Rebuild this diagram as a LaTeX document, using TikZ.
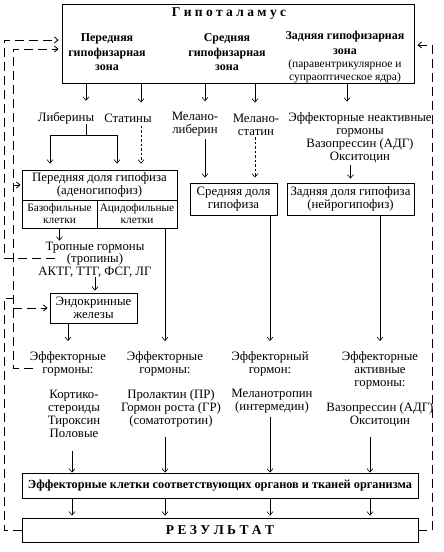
\documentclass[tikz,border=0pt]{standalone}
\usepackage{fontspec}
\setmainfont{Liberation Serif}
\usetikzlibrary{arrows.meta}

\begin{document}
\begin{tikzpicture}[x=1pt,y=-1pt]
	\tikzstyle{boite}=[draw,line width=0.9pt,inner sep=0pt]
	\tikzstyle{texte}=[align=center,inner sep=0pt,font=\fontsize{12.8}{13}\selectfont]
	\tikzstyle{petit}=[align=center,inner sep=0pt,font=\fontsize{11.3}{12}\selectfont]
	\tikzstyle{gras}=[align=center,inner sep=0pt,font=\fontsize{12}{14.5}\selectfont\bfseries]
	\tikzstyle{fleche}=[line width=0.6pt,-{Straight Barb[length=3.5pt,width=6pt]}]
	\tikzstyle{pointille}=[fleche,dash pattern=on 2.5pt off 2pt]
	\tikzstyle{retour}=[line width=0.8pt,dash pattern=on 9pt off 5pt]
	\useasboundingbox (0,0) rectangle (444,552);
	% hypothalamus
	\node[boite,minimum width=352pt,minimum height=79pt] (hyp) at (238,43.5) {};
	\node[gras,font=\fontsize{13.5}{14}\selectfont\bfseries] (titre) at (229,14) {Г и п о т а л а м у с};
	\node[gras] (zant) at (107,52.5) {Передняя\\гипофизарная\\зона};
	\node[gras] (zmoy) at (227,52.5) {Средняя\\гипофизарная\\зона};
	\node[gras] (zpost) at (345,43) {Задняя гипофизарная\\зона};
	\node[texte,font=\fontsize{11.5}{13}\selectfont] (noyaux) at (345,71.5) {(паравентрикулярное и\\супраоптическое ядра)};
	% hormones de l'hypothalamus
	\node[texte] (lib) at (66,118) {Либерины};
	\node[texte] (stat) at (128,118) {Статины};
	\node[texte] (mlib) at (195,124.5) {Мелано-\\либерин};
	\node[texte] (mstat) at (256,124.5) {Мелано-\\статин};
	\node[texte] (inact) at (360,138) {Эффекторные неактивные\\гормоны\\Вазопрессин (АДГ)\\Окситоцин};
	% hypophyse
	\node[boite,texte,minimum width=155pt,minimum height=30pt] (adeno) at (99.5,185) {Передняя доля гипофиза\\(аденогипофиз)};
	\node[boite,petit,minimum width=75pt,minimum height=28pt] (baso) at (59.5,214) {Базофильные\\клетки}; % gauche
	\node[boite,petit,minimum width=80pt,minimum height=28pt] (acido) at (137,214) {Ацидофильные\\клетки}; % droite
	\node[boite,texte,minimum width=87pt,minimum height=32pt] (moy) at (233.5,199) {Средняя доля\\гипофиза};
	\node[boite,texte,minimum width=127pt,minimum height=32pt] (neuro) at (350.5,199) {Задняя доля гипофиза\\(нейрогипофиз)};
	% tropines et glandes
	\node[texte,font=\fontsize{12.8}{12.5}\selectfont] (trop) at (95,259.5) {Тропные гормоны\\(тропины)\\АКТГ, ТТГ, ФСГ, ЛГ};
	\node[boite,texte,minimum width=87pt,minimum height=30pt] (endo) at (93.5,308) {Эндокринные\\железы};
	\node[texte] (eff1) at (68,363.5) {Эффекторные\\гормоны:};
	\node[texte] (eff2) at (165,363.5) {Эффекторные\\гормоны:};
	\node[texte] (eff3) at (270,363.5) {Эффекторный\\гормон:};
	\node[texte] (eff4) at (380,370) {Эффекторные\\активные\\гормоны:};
	\node[texte] (h1) at (74,414) {Кортико-\\стероиды\\Тироксин\\Половые};
	\node[texte] (h2) at (171,408) {Пролактин (ПР)\\Гормон роста (ГР)\\(соматотротин)};
	\node[texte] (h3) at (272,401.5) {Меланотропин\\(интермедин)};
	\node[texte] (h4) at (380,415) {Вазопрессин (АДГ)\\Окситоцин};
	% organes et resultat
	\node[boite,gras,font=\fontsize{12.3}{14}\selectfont\bfseries,minimum width=396pt,minimum height=25pt] (cells) at (220,485.5) {Эффекторные клетки соответствующих органов и тканей организма};
	\node[boite,gras,font=\fontsize{13.5}{14}\selectfont\bfseries,minimum width=396pt,minimum height=24pt] (result) at (220,530) {Р Е З У Л Ь Т А Т};
	% colonnes des fleches
	\coordinate (xlib) at (86,0);
	\coordinate (xstat) at (141,0);
	\coordinate (xmlib) at (205,0);
	\coordinate (xmstat) at (255,0);
	\coordinate (xinact) at (347,0);
	\coordinate (k1) at (72,0);
	\coordinate (k2) at (165,0);
	\coordinate (k3) at (270,0);
	\coordinate (k4) at (370,0);
	\coordinate (fork) at (86,135);
	% fleches du haut
	\draw[fleche,shorten >=11pt] (hyp.south -| xlib) -- (lib.north -| xlib);
	\draw[fleche,shorten >=11pt] (hyp.south -| xstat) -- (stat.north -| xstat);
	\draw[fleche,shorten >=11pt] (hyp.south -| xmlib) -- (mlib.north -| xmlib);
	\draw[fleche,shorten >=11pt] (hyp.south -| xmstat) -- (mstat.north -| xmstat);
	\draw[fleche,shorten >=11pt] (hyp.south -| xinact) -- (inact.north -| xinact);
	\draw (lib.south -| xlib) -- (fork);
	\draw[fleche,shorten >=6pt] (fork) -| ([xshift=-49.5pt]adeno.north);
	\draw[fleche,shorten >=6pt] (fork) -| ([xshift=17.5pt]adeno.north);
	\draw[pointille,shorten <=3pt,shorten >=6pt] (stat.south -| xstat) -- (adeno.north -| xstat);
	\draw[fleche,shorten <=2pt,shorten >=5pt] (mlib.south -| xmlib) -- (moy.north -| xmlib);
	\draw[pointille,shorten <=2pt,shorten >=5pt] (mstat.south -| xmstat) -- (moy.north -| xmstat);
	\draw[fleche,shorten <=2pt,shorten >=4pt] (inact.south -| neuro.north) -- (neuro.north);
	% fleches du milieu
	\draw[fleche,shorten >=1pt] (baso.south) -- (baso.south |- trop.north);
	\draw[fleche,shorten >=10pt] (acido.south -| k2) -- (eff2.north);
	\draw[fleche,shorten >=2pt] (trop.south) -- (trop.south |- endo.north);
	\draw[fleche,shorten >=10pt] (endo.south -| eff1.north) -- (eff1.north);
	\draw[fleche,shorten >=10pt] (moy.south -| eff3.north) -- (eff3.north);
	\draw[fleche,shorten >=10pt] (neuro.south -| eff4.north) -- (eff4.north);
	% fleches du bas
	\draw[fleche,shorten <=13pt] (h1.south -| k1) -- (cells.north -| k1);
	\draw[fleche,shorten <=10pt] (h2.south -| k2) -- (cells.north -| k2);
	\draw[fleche,shorten <=3pt] (h3.south -| k3) -- (cells.north -| k3);
	\draw[fleche,shorten <=10pt] (h4.south -| k4) -- (cells.north -| k4);
	\draw[fleche,shorten >=2pt] (cells.south -| k1) -- (result.north -| k1);
	\draw[fleche,shorten >=2pt] (cells.south -| k2) -- (result.north -| k2);
	\draw[fleche,shorten >=2pt] (cells.south -| k3) -- (result.north -| k3);
	\draw[fleche,shorten >=2pt] (cells.south -| k4) -- (result.north -| k4);
	% retroaction
	\coordinate (g1) at (4,0);
	\coordinate (g2) at (13,0);
	\coordinate (d1) at (432,0);
	\coordinate (trop1) at (55,258);
	\coordinate (eff1g) at (33,368);
	\coordinate (res1) at (13,298);
	\coordinate (hyp1) at ([yshift=3.5pt]hyp.west);
	\coordinate (hyp2) at ([yshift=-5.5pt]hyp.west);
	\coordinate (hyp3) at ([yshift=-1.5pt]hyp.east);
	\draw[fleche,retour,shorten >=3pt] (trop1) -- (trop1 -| g1) -- (g1 |- hyp1) -- (hyp1);
	\draw[fleche,retour,shorten >=3pt] (eff1g) -- (eff1g -| g2) -- (g2 |- hyp2) -- (hyp2);
	\draw[fleche,retour,shorten >=1pt] (g2 |- adeno.west) -- (adeno.west);
	\draw[fleche,retour,shorten >=2pt] (g2 |- endo.west) -- (endo.west);
	\draw[retour] (result.west) -- (result.west -| g1) -- (g1 |- res1) -- (res1);
	\draw[fleche,retour,shorten >=3pt] (result.east) -- (result.east -| d1) -- (d1 |- hyp3) -- (hyp3);
\end{tikzpicture}
\end{document}
